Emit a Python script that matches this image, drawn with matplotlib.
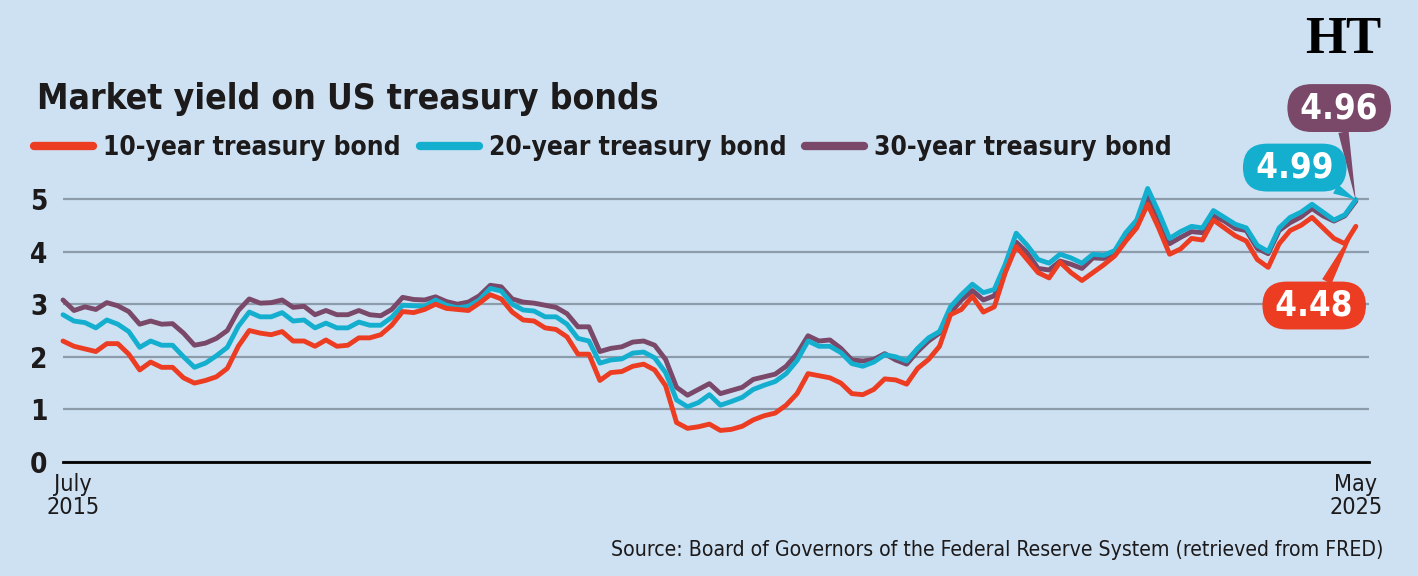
#!/usr/bin/env python3
"""Market yield on US treasury bonds, July 2015 - May 2025 (monthly readings)."""

import matplotlib
matplotlib.use("Agg")
import matplotlib.pyplot as plt
from matplotlib import font_manager
from matplotlib.font_manager import FontProperties
from matplotlib.transforms import ScaledTranslation
import numpy as np

# Month index: 0 = July 2015 ... 118 = May 2025
YIELD_10Y = [
    2.30, 2.20, 2.15, 2.10, 2.25, 2.25,
    2.05, 1.75, 1.90, 1.80, 1.80, 1.60, 1.50, 1.55, 1.62, 1.78, 2.20, 2.50,
    2.45, 2.42, 2.48, 2.30, 2.30, 2.20, 2.32, 2.20, 2.22, 2.36, 2.36, 2.42,
    2.60, 2.86, 2.84, 2.90, 3.00, 2.92, 2.90, 2.88, 3.02, 3.18, 3.10, 2.85,
    2.70, 2.68, 2.55, 2.52, 2.38, 2.05, 2.05, 1.55, 1.70, 1.72, 1.82, 1.86,
    1.75, 1.45, 0.75, 0.64, 0.67, 0.72, 0.60, 0.62, 0.68, 0.80, 0.88, 0.93,
    1.08, 1.30, 1.68, 1.64, 1.60, 1.50, 1.30, 1.28, 1.38, 1.58, 1.56, 1.48,
    1.78, 1.95, 2.20, 2.80, 2.90, 3.15, 2.85, 2.95, 3.60, 4.10, 3.85, 3.60,
    3.50, 3.80, 3.60, 3.45, 3.60, 3.75, 3.92, 4.20, 4.45, 4.90, 4.45, 3.95,
    4.05, 4.25, 4.22, 4.60, 4.45, 4.30, 4.20, 3.85, 3.70, 4.15, 4.40, 4.50,
    4.65, 4.45, 4.25, 4.15, 4.48,
]
YIELD_20Y = [
    2.80, 2.68, 2.65, 2.55, 2.70, 2.62,
    2.48, 2.18, 2.30, 2.22, 2.22, 2.00, 1.80, 1.88, 2.02, 2.18, 2.58, 2.85,
    2.76, 2.76, 2.84, 2.68, 2.70, 2.55, 2.64, 2.55, 2.55, 2.66, 2.60, 2.60,
    2.75, 2.98, 2.97, 2.96, 3.08, 2.98, 2.93, 2.96, 3.08, 3.30, 3.25, 3.00,
    2.89, 2.87, 2.76, 2.76, 2.62, 2.35, 2.30, 1.88, 1.94, 1.96, 2.07, 2.09,
    1.98, 1.70, 1.18, 1.05, 1.13, 1.28, 1.08, 1.15, 1.23, 1.38, 1.46, 1.53,
    1.68, 1.93, 2.30, 2.20, 2.20, 2.08, 1.87, 1.82, 1.90, 2.04, 2.00, 1.92,
    2.16, 2.36, 2.48, 2.95, 3.18, 3.38, 3.22, 3.28, 3.76, 4.35, 4.12, 3.85,
    3.78, 3.95, 3.88, 3.78, 3.95, 3.93, 4.02, 4.36, 4.60, 5.20, 4.75, 4.25,
    4.38, 4.48, 4.45, 4.78, 4.65, 4.52, 4.45, 4.12, 4.00, 4.45, 4.65, 4.75,
    4.90, 4.75, 4.60, 4.70, 4.99,
]
YIELD_30Y = [
    3.08, 2.88, 2.95, 2.90, 3.03, 2.97,
    2.86, 2.62, 2.68, 2.62, 2.63, 2.45, 2.22, 2.26, 2.35, 2.50, 2.88, 3.10,
    3.02, 3.03, 3.08, 2.94, 2.96, 2.80, 2.88, 2.80, 2.80, 2.88, 2.80, 2.78,
    2.90, 3.13, 3.09, 3.08, 3.14, 3.05, 3.00, 3.04, 3.16, 3.36, 3.33, 3.10,
    3.04, 3.02, 2.98, 2.94, 2.82, 2.57, 2.57, 2.10, 2.16, 2.19, 2.28, 2.30,
    2.22, 1.95, 1.42, 1.27, 1.38, 1.49, 1.30, 1.36, 1.42, 1.57, 1.62, 1.67,
    1.82, 2.06, 2.40, 2.30, 2.32, 2.16, 1.94, 1.92, 1.95, 2.06, 1.94, 1.86,
    2.10, 2.30, 2.45, 2.84, 3.08, 3.26, 3.08, 3.16, 3.62, 4.18, 3.98, 3.68,
    3.65, 3.82, 3.76, 3.68, 3.88, 3.87, 3.97, 4.30, 4.52, 5.05, 4.65, 4.15,
    4.27, 4.38, 4.36, 4.68, 4.58, 4.44, 4.40, 4.06, 3.96, 4.40, 4.55, 4.66,
    4.82, 4.68, 4.58, 4.68, 4.96,
]
SERIES_LABELS = ["10-year treasury bond", "20-year treasury bond", "30-year treasury bond"]
X_TICK_POS = [0, 118]
X_TICK_LABELS = ["July\n2015", "May\n2025"]
Y_TICKS = [0, 1, 2, 3, 4, 5]

BG = "#cee1f3"
GRID = "#8d9cab"
RED = "#ec3c22"
CYAN = "#14afcf"
PURPLE = "#7a4868"
INK = "#1c1a1b"

W, H = 1418, 576


def pick_family():
    """Prefer a narrow sans; fall back to what is installed."""
    fonts = font_manager.fontManager.ttflist
    names = {f.name for f in fonts}
    if "Liberation Sans Narrow" in names:
        return {"family": "Liberation Sans Narrow"}
    if any(f.name == "DejaVu Sans" and f.stretch == "condensed" for f in fonts):
        return {"family": "DejaVu Sans", "stretch": "condensed"}
    return {"family": "Roboto"}


def main():
    base = pick_family()
    fb = FontProperties(**base, weight="bold")
    fr = FontProperties(**base, weight="normal")

    fig = plt.figure(figsize=(W / 100, H / 100), dpi=100, facecolor=BG)
    renderer = fig.canvas.get_renderer()

    def fit(s, props, target_px):
        t = fig.text(0, 0, s, fontproperties=props, fontsize=20)
        w = t.get_window_extent(renderer).width
        t.remove()
        return 20 * target_px / w

    # axes: y=0 at px 462, 1 unit = 52.6 px, x from px 63 to 1369
    ymax = 5.4
    ax = fig.add_axes([63 / W, (H - 462) / H, (1369 - 63) / W, ymax * 52.6 / H])
    ax.set_facecolor(BG)

    x = np.arange(len(YIELD_10Y))
    line_kw = dict(lw=3.5, solid_joinstyle="round", solid_capstyle="round", clip_on=False)
    l30, = ax.plot(x, YIELD_30Y, color=PURPLE, zorder=3, **line_kw)
    l20, = ax.plot(x, YIELD_20Y, color=CYAN, zorder=4, **line_kw)
    l10, = ax.plot(x, YIELD_10Y, color=RED, zorder=5, **line_kw)

    ax.set_xlim(0, 119.2)
    ax.set_ylim(0, ymax)
    for s in ["top", "right", "left"]:
        ax.spines[s].set_visible(False)
    ax.spines["bottom"].set_color("black")
    ax.spines["bottom"].set_linewidth(2)
    ax.spines["bottom"].set_zorder(2)

    ax.set_yticks(Y_TICKS)
    ax.yaxis.grid(True, color=GRID, lw=1.6, zorder=1)
    ax.set_axisbelow(True)
    ax.tick_params(axis="y", length=0, pad=11)
    for lab in ax.get_yticklabels():
        lab.set_fontproperties(fb)
        lab.set_fontsize(20)
        lab.set_color(INK)

    ax.set_xticks(X_TICK_POS)
    ax.set_xticklabels(X_TICK_LABELS)
    ax.tick_params(axis="x", length=0, pad=8)
    xsize = fit("2015", fr, 53)
    for lab in ax.get_xticklabels():
        lab.set_fontproperties(fr)
        lab.set_fontsize(xsize)
        lab.set_color(INK)
        lab.set_linespacing(1.0)
    first = ax.get_xticklabels()[0]
    first.set_transform(first.get_transform() + ScaledTranslation(10 / 100, 0, fig.dpi_scale_trans))

    # title
    title_size = fit("Market yield on US treasury bonds", fb, 622)
    fig.text(37 / W, 1 - 109 / H, "Market yield on US treasury bonds",
             fontproperties=fb, fontsize=title_size, color=INK, va="baseline", ha="left")

    # legend
    leg_size = fit(SERIES_LABELS[0], fb, 298)
    fpx = leg_size * 100 / 72
    leg_prop = FontProperties(**base, weight="bold", size=leg_size)
    leg = fig.legend([l10, l20, l30], SERIES_LABELS, loc="center left",
                     bbox_to_anchor=(34 / W, 1 - 148 / H), ncol=3, frameon=False,
                     prop=leg_prop, handlelength=59 / fpx,
                     handletextpad=10 / fpx, columnspacing=19 / fpx,
                     borderaxespad=0, borderpad=0)
    for t in leg.get_texts():
        t.set_color(INK)
    for h in leg.legend_handles:
        h.set_linewidth(6)
        h.set_solid_capstyle("round")

    # end-value callouts
    last = len(YIELD_10Y) - 1
    for vals, color, off in [
        (YIELD_30Y, PURPLE, (-12, 67)),
        (YIELD_20Y, CYAN, (-44, 23)),
        (YIELD_10Y, RED, (-30, -57)),
    ]:
        ax.annotate(f"\u2009{vals[last]:.2f}\u2009", xy=(x[last], vals[last]), xytext=off,
                    textcoords="offset points", ha="center", va="center",
                    fontproperties=fb, fontsize=25, color="white",
                    bbox=dict(boxstyle="round,pad=0.2,rounding_size=0.7",
                              fc=color, ec="none"),
                    arrowprops=dict(arrowstyle="wedge,tail_width=0.3,shrink_factor=0.5",
                                    fc=color, ec="none", shrinkA=0, shrinkB=0),
                    zorder=6, annotation_clip=False)

    # masthead mark
    fig.text(1343 / W, 1 - 40 / H, "HT", family="Liberation Serif", weight="bold",
             fontsize=38, color="black", ha="center", va="center")

    # source
    src = "Source: Board of Governors of the Federal Reserve System (retrieved from FRED)"
    src_size = fit(src, fr, 770)
    fig.text(1383 / W, 1 - 550 / H, src, fontproperties=fr, fontsize=src_size,
             color=INK, ha="right", va="center")

    fig.savefig("out.png", dpi=100, facecolor=BG)
    plt.close(fig)


if __name__ == "__main__":
    main()
